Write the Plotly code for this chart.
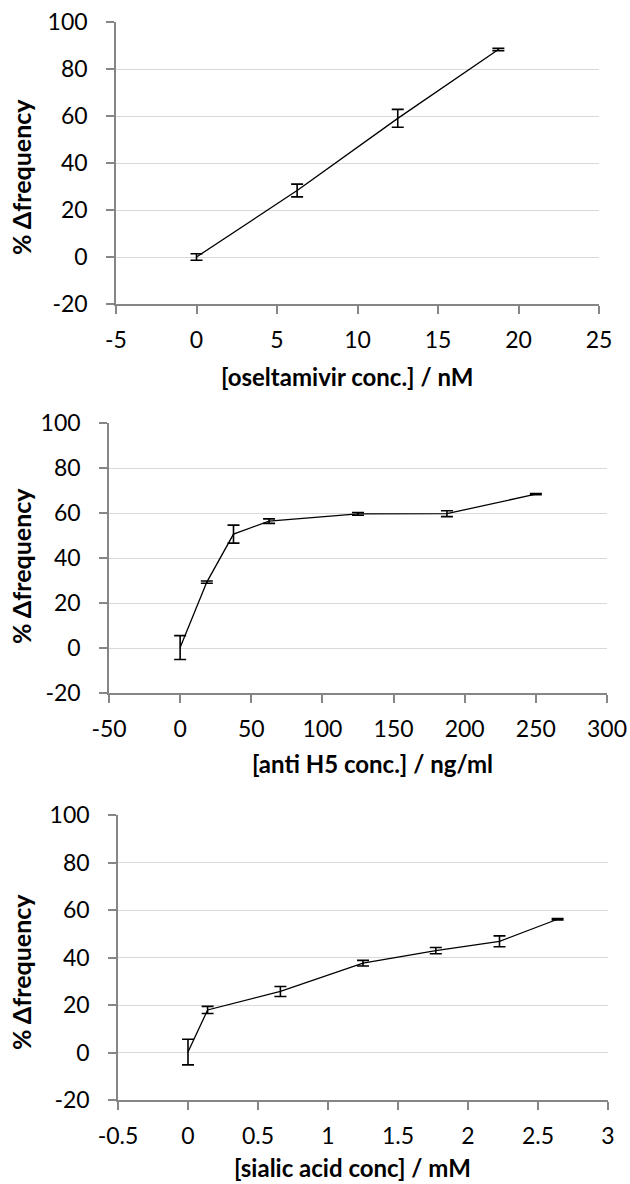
import plotly.graph_objects as go

# Panel 1: oseltamivir
osel_x = [0, 6.25, 12.5, 18.75]
osel_y = [0, 28.3, 59.0, 88.3]
osel_err = [1.4, 2.7, 3.8, 0.5]

# Panel 2: anti H5
h5_x = [0, 18.75, 37.5, 62.5, 125, 187.5, 250]
h5_y = [0.2, 29.3, 50.6, 56.4, 59.6, 59.7, 68.4]
h5_err = [5.3, 0.5, 4.0, 1.0, 0.6, 1.3, 0.3]

# Panel 3: sialic acid
sa_x = [0, 0.14, 0.66, 1.25, 1.77, 2.225, 2.64]
sa_y = [0.2, 17.9, 25.7, 37.6, 42.9, 46.8, 56.1]
sa_err = [5.4, 1.5, 2.1, 1.2, 1.3, 2.3, 0.3]

x_titles = ["[oseltamivir conc.] / nM", "[anti H5 conc.] / ng/ml", "[sialic acid conc] / mM"]
y_title = "% Δfrequency"
x_tickvals = [[-5, 0, 5, 10, 15, 20, 25],
              [-50, 0, 50, 100, 150, 200, 250, 300],
              [-0.5, 0, 0.5, 1, 1.5, 2, 2.5, 3]]
x_ticktext = [["-5", "0", "5", "10", "15", "20", "25"],
              ["-50", "0", "50", "100", "150", "200", "250", "300"],
              ["-0.5", "0", "0.5", "1", "1.5", "2", "2.5", "3"]]
y_tickvals = [-20, 0, 20, 40, 60, 80, 100]
y_ticktext = ["-20", "0", "20", "40", "60", "80", "100"]

W, H = 630, 1184
# plot-area pixel boxes: (left, right, top, bottom)
boxes = [(116, 599, 22, 304), (109, 607, 423, 693), (118, 608, 815, 1100)]
ytitle_centers = [177, 566, 972]
xtitle_centers = [347, 372, 352]
xtitle_offsets = [72, 70, 67]

series = [(osel_x, osel_y, osel_err), (h5_x, h5_y, h5_err), (sa_x, sa_y, sa_err)]

fig = go.Figure()
font_fam = "Lato, Open Sans, sans-serif"
axis_col = "#868686"

for i, (xs, ys, es) in enumerate(series):
    sfx = "" if i == 0 else str(i + 1)
    fig.add_trace(go.Scatter(
        x=xs, y=ys, mode="lines",
        line=dict(color="black", width=1.3),
        error_y=dict(type="data", array=es, visible=True, color="black",
                     thickness=1.6, width=6),
        xaxis="x" + sfx, yaxis="y" + sfx, showlegend=False,
        hoverinfo="skip"))
    l, r, t, b = boxes[i]
    xt = x_tickvals[i]
    fig.layout["xaxis" + sfx] = dict(
        domain=[l / W, r / W], range=[xt[0], xt[-1]],
        tickmode="array", tickvals=xt, ticktext=x_ticktext[i],
        anchor="y" + sfx, showline=True, linecolor=axis_col, linewidth=1.5,
        ticks="outside", ticklen=8, tickcolor=axis_col, tickwidth=1.5,
        ticklabelstandoff=7,
        showgrid=False, zeroline=False, automargin=False,
        tickfont=dict(family=font_fam, size=23, color="black"))
    fig.layout["yaxis" + sfx] = dict(
        domain=[1 - b / H, 1 - t / H], range=[y_tickvals[0], y_tickvals[-1]],
        tickmode="array", tickvals=y_tickvals, ticktext=y_ticktext,
        anchor="x" + sfx, showline=True, linecolor=axis_col, linewidth=1.5,
        ticks="outside", ticklen=8, tickcolor=axis_col, tickwidth=1.5,
        ticklabelstandoff=14,
        showgrid=True, gridcolor="#d9d9d9", gridwidth=1, zeroline=False,
        automargin=False,
        tickfont=dict(family=font_fam, size=23, color="black"))
    fig.add_annotation(
        text="<b>" + x_titles[i] + "</b>", xref="paper", yref="paper",
        x=xtitle_centers[i] / W, y=1 - (b + xtitle_offsets[i]) / H,
        xanchor="center", yanchor="middle", showarrow=False,
        font=dict(family=font_fam, size=24, color="black"))
    fig.add_annotation(
        text="<b>" + y_title + "</b>", xref="paper", yref="paper",
        x=21 / W, y=1 - ytitle_centers[i] / H, xanchor="center",
        yanchor="middle", textangle=-90, showarrow=False,
        font=dict(family=font_fam, size=25, color="black"))

fig.update_layout(
    width=W, height=H, margin=dict(l=0, r=0, t=0, b=0),
    paper_bgcolor="white", plot_bgcolor="white")

fig.write_html("out.html", config={"displayModeBar": False},
               post_script="document.body.style.margin='0';"
                           "document.body.style.overflow='hidden';")
